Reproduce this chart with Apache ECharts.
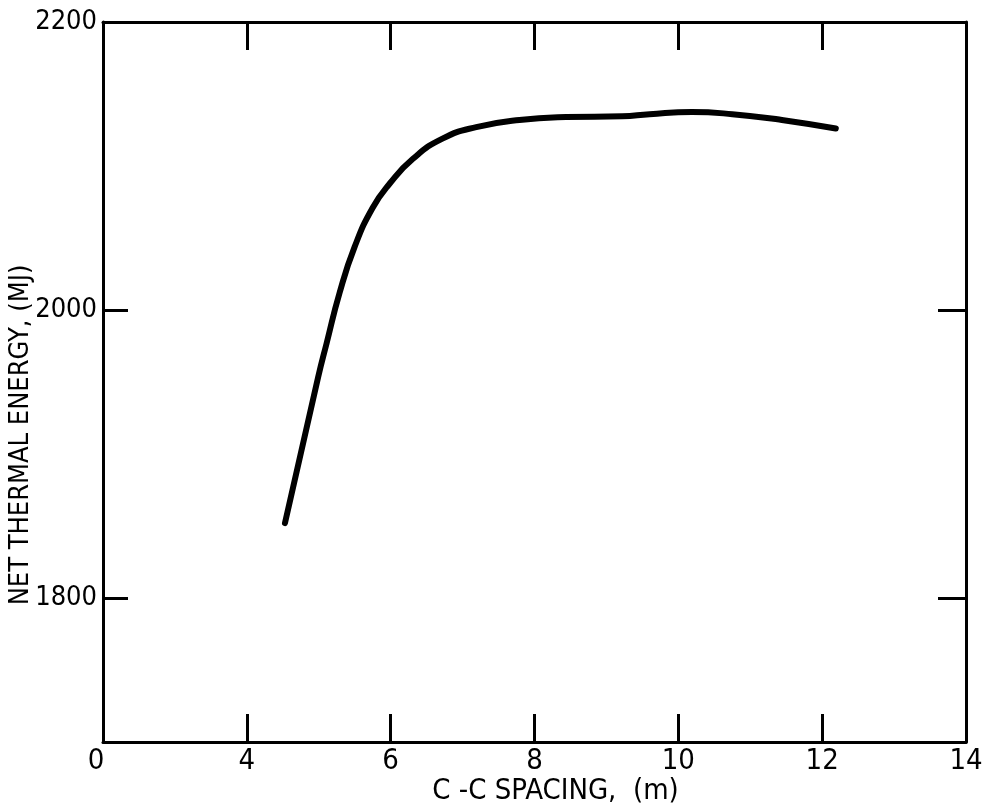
<!DOCTYPE html>
<html>
<head>
<meta charset="utf-8">
<script src="https://cdn.jsdelivr.net/npm/echarts@6/dist/echarts.min.js"></script>
<style>
  html, body { margin: 0; padding: 0; background: #fff; }
  #chart { width: 987px; height: 812px; }
</style>
</head>
<body>
<div id="chart"></div>
<script>
// C-C spacing (m) and net thermal energy (MJ)
const spacing = [4.53, 4.99, 5.11, 5.29, 5.50, 5.75, 5.99, 6.31, 6.72, 7.19, 7.79, 8.44, 9.22, 9.60, 10.19, 10.75, 11.44, 12.19]
const energy = [1852, 1953, 1977, 2012, 2044, 2071, 2088, 2105, 2119, 2127, 2132, 2134, 2134.5, 2136, 2137.5, 2136, 2132, 2126]

const yLabelValues = [1800, 2000, 2200]

const FONT = '"Liberation Sans Narrow", "DejaVu Sans Condensed", "Arial Narrow", sans-serif'

const chart = echarts.init(document.getElementById('chart'))

const frameLine = { show: true, lineStyle: { color: '#000', width: 3 } }

chart.setOption({
  backgroundColor: '#fff',
  animation: false,
  grid: { left: 103, right: 21, top: 22, bottom: 70, containLabel: false, outerBoundsMode: 'none' },
  xAxis: [
    {
      type: 'value',
      min: 2,
      max: 14,
      interval: 2,
      name: 'C -C SPACING,  (m)',
      nameLocation: 'middle',
      nameGap: 35,
      nameMoveOverlap: false,
      nameTextStyle: { fontFamily: FONT, fontSize: 29, color: '#000', padding: [0, 0, 0, 42] },
      axisLine: frameLine,
      axisTick: { show: true, inside: true, length: 28, lineStyle: { color: '#000', width: 3 } },
      axisLabel: {
        margin: 5,
        fontFamily: FONT,
        fontSize: 29,
        color: '#000',
        // the broken axis starts at 0 on the left edge
        formatter: v => (v === 2 ? '{zero|0}' : String(v)),
        rich: { zero: { fontFamily: FONT, fontSize: 29, color: '#000', padding: [0, 14, 0, 0] } }
      },
      splitLine: { show: false }
    },
    {
      type: 'value',
      position: 'top',
      min: 2,
      max: 14,
      interval: 2,
      axisLine: frameLine,
      axisTick: { show: true, inside: true, length: 28, lineStyle: { color: '#000', width: 3 } },
      axisLabel: { show: false },
      splitLine: { show: false }
    }
  ],
  yAxis: [
    {
      type: 'value',
      min: 1700,
      max: 2200,
      interval: 100,
      name: 'NET THERMAL ENERGY, (MJ)',
      nameLocation: 'middle',
      nameGap: 69,
      nameMoveOverlap: false,
      nameTextStyle: { fontFamily: FONT, fontSize: 27, color: '#000', padding: [0, 106, 0, 0] },
      axisLine: frameLine,
      axisTick: { show: true, inside: true, length: 25, customValues: yLabelValues, lineStyle: { color: '#000', width: 3 } },
      axisLabel: {
        margin: 6,
        fontFamily: FONT,
        fontSize: 27,
        color: '#000',
        customValues: yLabelValues,
        formatter: v => String(v)
      },
      splitLine: { show: false }
    },
    {
      type: 'value',
      position: 'right',
      min: 1700,
      max: 2200,
      interval: 100,
      axisLine: frameLine,
      axisTick: { show: true, inside: true, length: 28, customValues: yLabelValues, lineStyle: { color: '#000', width: 3 } },
      axisLabel: { show: false },
      splitLine: { show: false }
    }
  ],
  series: [
    {
      type: 'line',
      xAxisIndex: 0,
      yAxisIndex: 0,
      data: spacing.map((x, i) => [x, energy[i]]),
      smooth: 0.5,
      showSymbol: false,
      symbol: 'none',
      lineStyle: { color: '#000', width: 6, cap: 'round', join: 'round' }
    }
  ]
})
</script>
</body>
</html>
